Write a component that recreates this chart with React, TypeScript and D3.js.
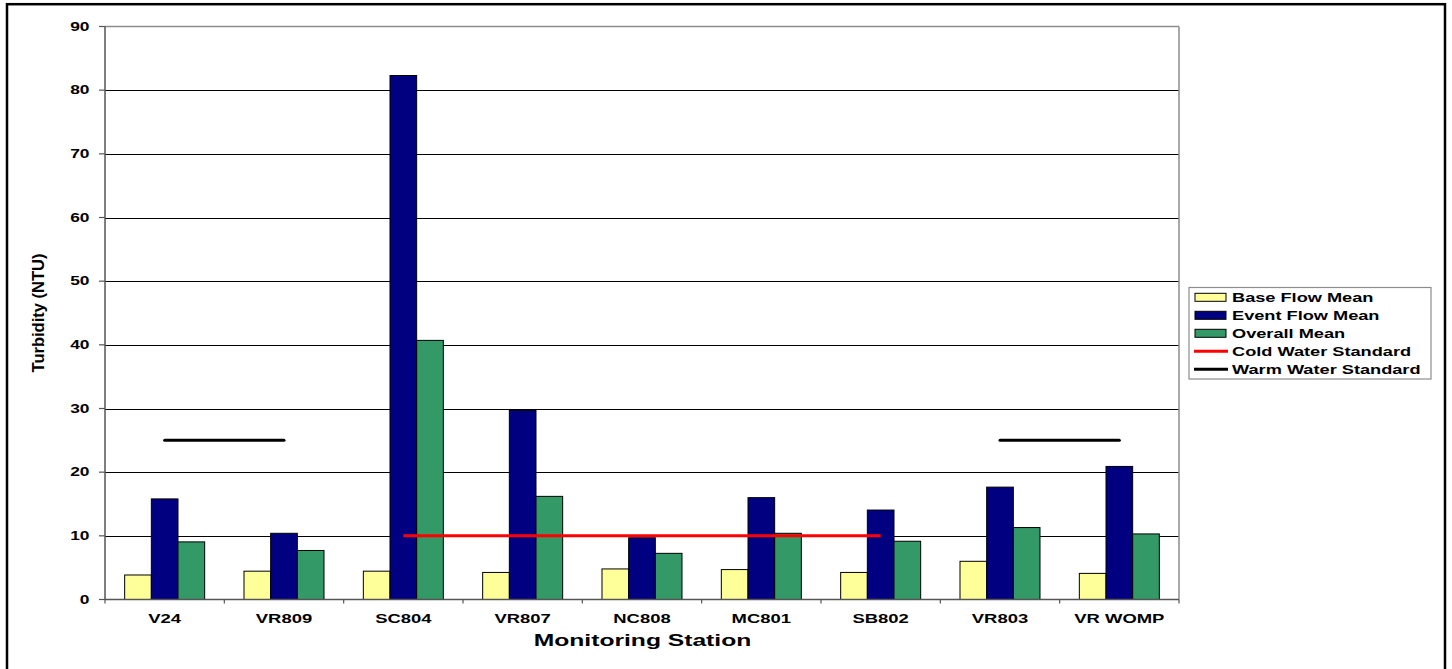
import React from "react";
import * as d3 from "d3";

const categories = ["V24", "VR809", "SC804", "VR807", "NC808", "MC801", "SB802", "VR803", "VR WOMP"];
const baseFlowMean = [3.85, 4.45, 4.45, 4.25, 4.8, 4.7, 4.25, 6.0, 4.1];
const eventFlowMean = [15.8, 10.4, 82.3, 29.7, 9.7, 16.0, 14.05, 17.65, 20.9];
const overallMean = [9.05, 7.7, 40.7, 16.2, 7.25, 10.4, 9.15, 11.3, 10.3];
const yTicks = [0, 10, 20, 30, 40, 50, 60, 70, 80, 90];
const coldWaterStandard = [{ from: "SC804", to: "SB802", value: 10 }];
const warmWaterStandard = [
  { from: "V24", to: "VR809", value: 25 },
  { from: "VR803", to: "VR WOMP", value: 25 },
];

const seriesNames = ["Base Flow Mean", "Event Flow Mean", "Overall Mean"];
const seriesValues = [baseFlowMean, eventFlowMean, overallMean];
const seriesColors = ["#FFFF99", "#000080", "#339966"];

const FONT = "'Liberation Sans', Arial, sans-serif";

export default function App() {
  const left = 105, right = 1179, top = 26.5, bottom = 599.5;
  const x = d3.scaleBand<string>().domain(categories).range([left, right]).paddingInner(0).paddingOuter(0);
  const xs = d3.scaleBand<string>().domain(seriesNames).range([0, x.bandwidth()]).paddingInner(0).paddingOuter(0.7375);
  const y = d3.scaleLinear().domain([0, 90]).range([bottom, top]);
  const center = (c: string) => (x(c) as number) + x.bandwidth() / 2;

  const legendItems = [
    { name: "Base Flow Mean", type: "rect", color: seriesColors[0] },
    { name: "Event Flow Mean", type: "rect", color: seriesColors[1] },
    { name: "Overall Mean", type: "rect", color: seriesColors[2] },
    { name: "Cold Water Standard", type: "line", color: "#FF0000" },
    { name: "Warm Water Standard", type: "line", color: "#000000" },
  ];

  return (
    <div style={{ position: "absolute", left: 0, top: 0 }}>
      <svg width={1452} height={669} style={{ display: "block", background: "#fff" }} fontFamily={FONT}>
        <rect x={7} y={4.2} width={1438} height={700} fill="#fff" stroke="#000" strokeWidth={2.5} />
        {yTicks.filter((t) => t > 0 && t < 90).map((t) => (
          <line key={t} x1={left} x2={right} y1={Math.round(y(t)) + 0.5} y2={Math.round(y(t)) + 0.5} stroke="#000" strokeWidth={1} />
        ))}
        <line x1={left} x2={right} y1={26.5} y2={26.5} stroke="#8c8c8c" strokeWidth={1.5} />
        <line x1={right} x2={right} y1={26.5} y2={bottom} stroke="#8c8c8c" strokeWidth={1.5} />
        {seriesNames.map((s, si) =>
          categories.map((c, ci) => {
            const v = seriesValues[si][ci];
            const bx = (x(c) as number) + (xs(s) as number);
            return (
              <rect key={s + c} x={bx} y={y(v)} width={xs.bandwidth()} height={y(0) - y(v)}
                fill={seriesColors[si]} stroke="#000" strokeWidth={1} />
            );
          })
        )}
        {coldWaterStandard.map((d, i) => (
          <line key={"c" + i} x1={center(d.from)} x2={center(d.to)} y1={y(d.value)} y2={y(d.value)} stroke="#FF0000" strokeWidth={3} />
        ))}
        {warmWaterStandard.map((d, i) => (
          <line key={"w" + i} x1={center(d.from)} x2={center(d.to)} y1={y(d.value)} y2={y(d.value)} stroke="#000" strokeWidth={3} strokeLinecap="round" />
        ))}
        <line x1={left} x2={left} y1={top} y2={bottom} stroke="#555" strokeWidth={1.5} />
        <line x1={left} x2={right} y1={bottom} y2={bottom} stroke="#555" strokeWidth={1.5} />
        {yTicks.map((t) => (
          <g key={"yt" + t}>
            <line x1={99} x2={left} y1={y(t)} y2={y(t)} stroke="#555" strokeWidth={1.2} />
            <text transform={`translate(89.5,${y(t) + 4.3}) scale(1.45,1)`} textAnchor="end" fontSize={12} fontWeight="bold">{t}</text>
          </g>
        ))}
        {categories.map((c, i) => (
          <line key={"xt" + i} x1={(x(c) as number)} x2={(x(c) as number)} y1={bottom} y2={bottom + 4} stroke="#555" strokeWidth={1.2} />
        ))}
        <line x1={right} x2={right} y1={bottom} y2={bottom + 4} stroke="#555" strokeWidth={1.2} />
        {categories.map((c) => (
          <text key={"xl" + c} transform={`translate(${center(c)},622.5) scale(1.42,1)`} textAnchor="middle" fontSize={13} fontWeight="bold">{c}</text>
        ))}
        <text transform={`translate(642.5,646) scale(1.45,1)`} textAnchor="middle" fontSize={17} fontWeight="bold">Monitoring Station</text>
        <text transform={`translate(44,313) rotate(-90) scale(1.18,1.2)`} textAnchor="middle" fontSize={14} fontWeight="bold">Turbidity (NTU)</text>
        <rect x={1189} y={287.5} width={242} height={91.5} fill="#fff" stroke="#8c8c8c" strokeWidth={1.2} />
        {legendItems.map((d, i) => {
          const cy = 297.3 + i * 18;
          return (
            <g key={d.name}>
              {d.type === "rect" ? (
                <rect x={1195} y={cy - 4} width={31} height={8} fill={d.color} stroke="#000" strokeWidth={1} />
              ) : (
                <line x1={1194} x2={1228} y1={cy} y2={cy} stroke={d.color} strokeWidth={3} />
              )}
              <text transform={`translate(1232,${cy + 4.6}) scale(1.4,1)`} fontSize={13} fontWeight="bold">{d.name}</text>
            </g>
          );
        })}
      </svg>
    </div>
  );
}
